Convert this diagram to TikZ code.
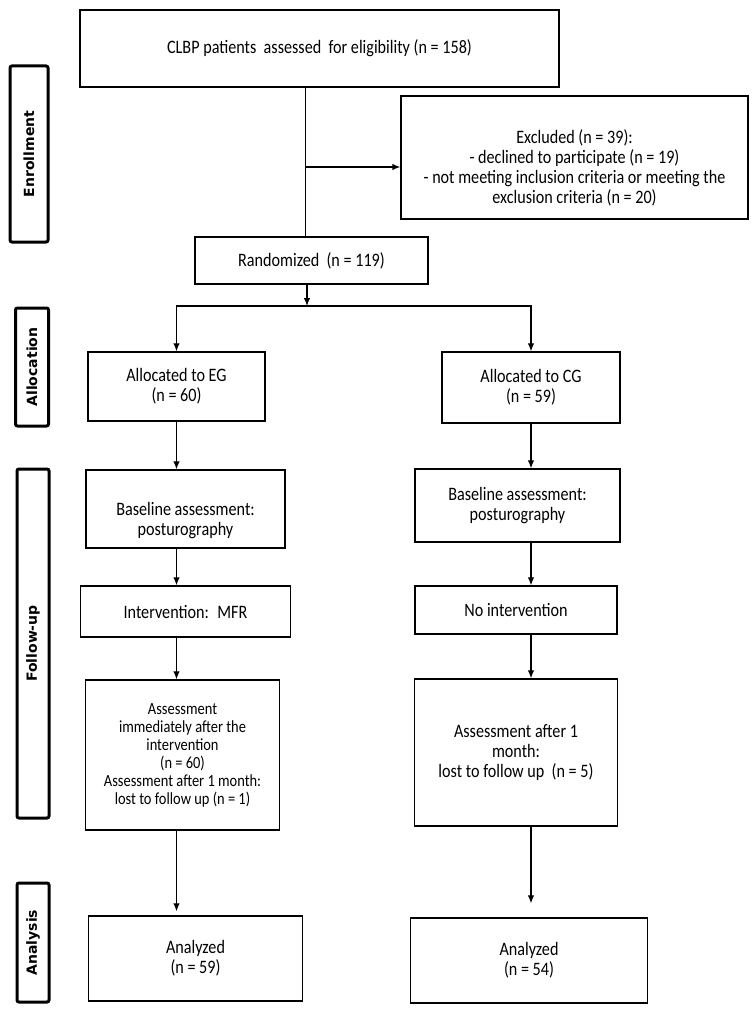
\documentclass[tikz,border=0pt]{standalone}
\usepackage{fontspec}
\setmainfont{Carlito}[FakeStretch=0.85]
\newfontfamily\phasefont{DejaVu Sans}
\usetikzlibrary{shapes,arrows.meta}
\newcommand{\flowfont}{\fontsize{19}{20}\selectfont}
\newcommand{\smallflowfont}{\fontsize{17}{18}\selectfont}
\tikzstyle{block} = [rectangle, draw, line width=1.3pt, align=center, inner sep=2pt, font=\flowfont]
\tikzstyle{phase} = [rectangle, draw, line width=3pt, rounded corners=2pt, rotate=90, inner sep=1pt, font=\phasefont\bfseries\fontsize{14}{16}\selectfont]
\tikzstyle{arrow} = [line width=1.2pt, -{Latex[length=8pt,width=6.5pt]}]
\tikzstyle{line} = [line width=1.2pt]

\begin{document}
\begin{tikzpicture}[node distance=100pt]
    \useasboundingbox (0,0) rectangle (754pt,-1014pt);
    % Phase labels
    \node [phase, minimum width=176pt, minimum height=38pt] (enroll) at (29pt,-154pt) {Enrollment};
    \node [phase, minimum width=118pt, minimum height=33pt] (alloc) at (32pt,-367pt) {Allocation};
    \node [phase, minimum width=349pt, minimum height=32pt] (follow) at (33pt,-643.5pt) {Follow-up};
    \node [phase, minimum width=119pt, minimum height=32pt] (analysis) at (33pt,-942.5pt) {Analysis};

    % Place nodes
    \node [block, minimum width=479pt, minimum height=77pt] (screen) at (319.5pt,-48.5pt) {CLBP patients \ assessed \ for eligibility (n = 158)};
    \node [block, node distance=109pt, below of=screen, xshift=255pt, minimum width=347pt, minimum height=123pt] (excl) {\rule{0pt}{34pt}Excluded (n = 39):\\- declined to participate (n = 19)\\- not meeting inclusion criteria or meeting the\\exclusion criteria (n = 20)};
    \node [block, node distance=212pt, below of=screen, xshift=-8pt, minimum width=233pt, minimum height=47pt] (rand) {Randomized \ (n = 119)};
    \node [block, node distance=126pt, below of=rand, xshift=-135pt, minimum width=177pt, minimum height=69pt] (eg) {Allocated to EG\\(n = 60)};
    \node [block, node distance=354.5pt, right of=eg, yshift=-1pt, minimum width=178pt, minimum height=71pt] (cg) {Allocated to CG\\(n = 59)};
    \node [block, node distance=122.5pt, below of=eg, xshift=9pt, minimum width=199pt, minimum height=78pt] (baseeg) {\rule{0pt}{36pt}Baseline assessment:\\posturography};
    \node [block, node distance=118pt, below of=cg, xshift=-13.5pt, minimum width=205pt, minimum height=73pt] (basecg) {Baseline assessment:\\posturography};
    \node [block, node distance=102.5pt, below of=baseeg, minimum width=210pt, minimum height=51pt] (integ) {Intervention: \ MFR};
    \node [block, node distance=104.5pt, below of=basecg, xshift=-1.5pt, minimum width=202pt, minimum height=48pt] (intcg) {No intervention};
    \node [block, node distance=143.5pt, below of=integ, xshift=-3pt, minimum width=194pt, minimum height=150pt, font=\smallflowfont] (asseg) {Assessment\\immediately after the\\intervention\\(n = 60)\\Assessment after 1 month:\\lost to follow up (n = 1)};
    \node [block, node distance=142.5pt, below of=intcg, minimum width=203pt, minimum height=147pt] (asscg) {Assessment after 1\\month:\\lost to follow up \ (n = 5)};
    \node [block, node distance=203.5pt, below of=asseg, xshift=13pt, minimum width=214pt, minimum height=85pt] (aneg) {Analyzed\\(n = 59)};
    \node [block, node distance=208pt, below of=asscg, xshift=13pt, minimum width=237pt, minimum height=85pt] (ancg) {Analyzed\\(n = 54)};

    % Connectors
    \coordinate (split) at (305.5pt,-167pt);
    \coordinate (fork) at (307pt,-306pt);
    \draw [line] (split |- screen.south) -- (split |- rand.north);
    \draw [arrow] (split) -- (split -| excl.west);
    \draw [arrow] (fork |- rand.south) -- (fork);
    \draw [arrow] (fork) -| (eg.north);
    \draw [arrow] (fork) -| (cg.north);
    \draw [arrow] (eg.south) -- (eg.south |- baseeg.north);
    \draw [arrow] (eg.south |- baseeg.south) -- (eg.south |- integ.north);
    \draw [arrow] (eg.south |- integ.south) -- (eg.south |- asseg.north);
    \draw [arrow, shorten >=4pt] (eg.south |- asseg.south) -- (eg.south |- aneg.north);
    \draw [arrow] (cg.south) -- (cg.south |- basecg.north);
    \draw [arrow] (cg.south |- basecg.south) -- (cg.south |- intcg.north);
    \draw [arrow] (cg.south |- intcg.south) -- (cg.south |- asscg.north);
    \draw [arrow, shorten >=14pt] (cg.south |- asscg.south) -- (cg.south |- ancg.north);
\end{tikzpicture}
\end{document}
